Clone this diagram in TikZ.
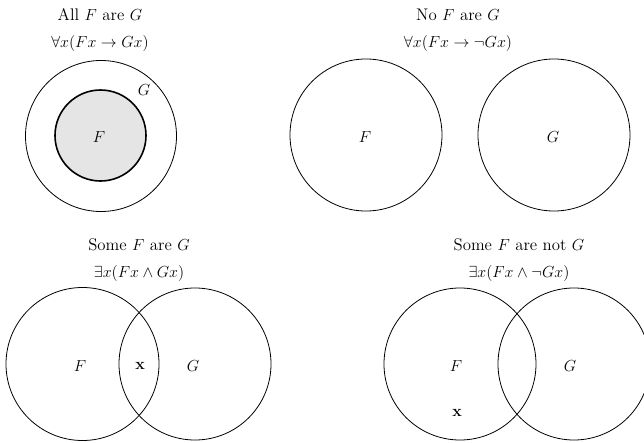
\documentclass[tikz,border=0pt]{standalone}
\begin{document}
\begin{tikzpicture}[x=0.75pt,y=-0.75pt,font=\fontsize{12.6}{15}\selectfont]
\useasboundingbox (0,0) rectangle (644,443);

% All F are G
\node (allt) at (100,15) {All $F$ are $G$};
\node (allf) at (100,43) {$\forall x(Fx \rightarrow Gx)$};
\draw[semithick] (101,136) circle (75.5);
\draw[very thick,fill=gray!20] (100.5,135.5) circle (45.5);
\node (allF) at (99,137) {$F$};
\node (allG) at (144,90) {$G$};

% No F are G
\node (not) at (458,15) {No $F$ are $G$};
\node (nof) at (458,43) {$\forall x(Fx \rightarrow \neg Gx)$};
\draw[semithick] (366,135) circle (76);
\draw[semithick] (554,135) circle (76);
\node (noF) at (365,137) {$F$};
\node (noG) at (553,137) {$G$};

% Some F are G
\node (somet) at (139,245) {Some $F$ are $G$};
\node (somef) at (139,273) {$\exists x(Fx \wedge Gx)$};
\draw[semithick] (82.5,364) circle (76.5);
\draw[semithick] (195,364) circle (76);
\node (someF) at (80,366) {$F$};
\node (somex) at (140,366) {$\mathbf{x}$};
\node (someG) at (193,366) {$G$};

% Some F are not G
\node (snott) at (519,245) {Some $F$ are not $G$};
\node (snotf) at (519,273) {$\exists x(Fx \wedge \neg Gx)$};
\draw[semithick] (460,364) circle (76);
\draw[semithick] (574,364) circle (76);
\node (snotF) at (456,366) {$F$};
\node (snotx) at (457,413) {$\mathbf{x}$};
\node (snotG) at (570,366) {$G$};

\end{tikzpicture}
\end{document}
